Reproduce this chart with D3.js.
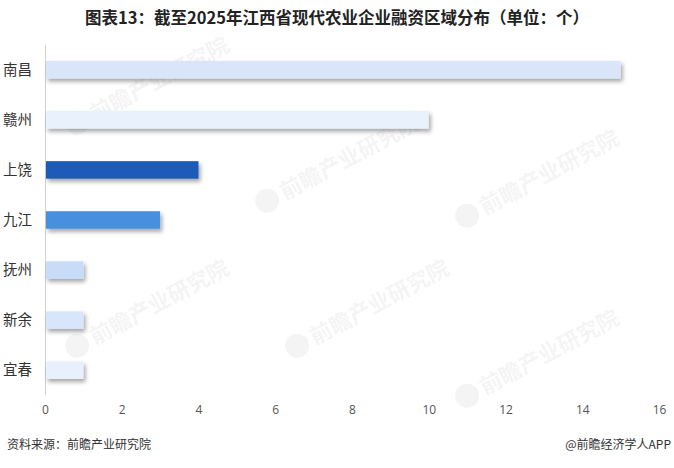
<!DOCTYPE html>
<html><head><meta charset="utf-8">
<script src="https://cdn.jsdelivr.net/npm/d3@7"></script>
<style>body{margin:0;background:#fff}svg{display:block}</style>
</head><body>
<svg id="c" width="674" height="468"></svg>
<script>
const categories = ["南昌","赣州","上饶","九江","抚州","新余","宜春"];
const values = [15,10,4,3,1,1,1];
const barColors = ["#d9e6fa","#e9f1fd","#1a5cb8","#4a8fe0","#c8dcf8","#d8e6fb","#e8f0fd"];
const xTicks = [0,2,4,6,8,10,12,14,16];
const title = "图表13：截至2025年江西省现代农业企业融资区域分布（单位：个）";
const source = "资料来源：前瞻产业研究院";
const credit = "@前瞻经济学人APP";

const svg = d3.select("#c");
const font = "'Noto Sans CJK SC', 'Noto Sans', sans-serif";

// watermarks
const wm = [[110,112],[300,190],[500,205],[330,335],[110,335],[500,385]];
wm.forEach(([x,y])=>{
  const g = svg.append("g").attr("transform",`translate(${x},${y}) rotate(-28)`).attr("opacity",0.06);
  g.append("circle").attr("cx",-34).attr("cy",-6).attr("r",12).attr("fill","#555");
  g.append("text").attr("x",-18).attr("y",2).attr("font-family",font).attr("font-size",22).attr("font-weight","bold").attr("fill","#555").text("前瞻产业研究院");
});

const x = d3.scaleLinear().domain([0,16]).range([45,659]);
const y = d3.scaleBand().domain(categories).range([45,395]).paddingInner(0.65).paddingOuter(0.32);

const defs = svg.append("defs");
const f = defs.append("filter").attr("id","sh").attr("x","-10%").attr("y","-50%").attr("width","130%").attr("height","250%");
f.append("feDropShadow").attr("dx",2).attr("dy",3).attr("stdDeviation",2).attr("flood-color","#000").attr("flood-opacity",0.35);

svg.append("text").attr("x",337).attr("y",24).attr("text-anchor","middle")
  .attr("font-family",font).attr("font-size",16.5).attr("font-weight","bold").attr("fill","#222").text(title);

// axis line
svg.append("line").attr("x1",45.5).attr("x2",45.5).attr("y1",45).attr("y2",395).attr("stroke","#d0d0d0").attr("stroke-width",1);

svg.append("g").selectAll("rect").data(categories).join("rect")
  .attr("x",x(0)+1).attr("y",d=>y(d)).attr("height",y.bandwidth())
  .attr("width",(d,i)=>x(values[i])-x(0)-1)
  .attr("fill",(d,i)=>barColors[i]).attr("filter","url(#sh)");

svg.append("g").selectAll("text").data(categories).join("text")
  .attr("x",3).attr("y",d=>y(d)+y.bandwidth()/2).attr("dy","0.36em")
  .attr("font-family",font).attr("font-size",14.5).attr("fill","#333").text(d=>d);

const xa = d3.axisBottom(x).tickValues(xTicks).tickSize(0).tickPadding(0);
const ga = svg.append("g").attr("transform","translate(0,405)").call(xa);
ga.select(".domain").remove();
ga.selectAll("text").attr("font-family","'Open Sans', sans-serif").attr("font-size",12).attr("fill","#555");

svg.append("text").attr("x",7).attr("y",449).attr("font-family",font).attr("font-size",12).attr("fill","#333").text(source);
svg.append("text").attr("x",671).attr("y",449).attr("text-anchor","end").attr("font-family",font).attr("font-size",12).attr("fill","#333").text(credit);
</script>
</body></html>
